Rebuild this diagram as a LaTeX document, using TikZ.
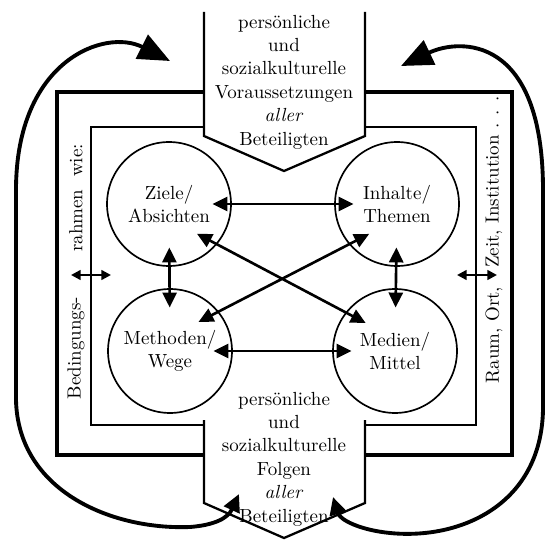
\documentclass[tikz,border=0pt]{standalone}
\usepackage{amsmath}
\usepackage{tikz}
\usetikzlibrary{arrows.meta}

\begin{document}
\begin{tikzpicture}[x=0.02cm,y=-0.02cm,
  every node/.style={font=\fontsize{10.8}{13.3}\selectfont,align=center},
  feld/.style={circle,draw,line width=0.95pt,minimum size=2.48cm,inner sep=0pt},
  rahmen/.style={line width=1.9pt},
  innen/.style={line width=1.1pt},
  fuenfeck/.style={line width=1.3pt},
  pfeil/.style={line width=1.5pt,{Triangle[length=8.5pt,width=8pt]}-{Triangle[length=8.5pt,width=8pt]}},
  seite/.style={line width=1.5pt,{Triangle[length=5.5pt,width=5.5pt]}-{Triangle[length=5.5pt,width=5.5pt]}},
  bogen/.style={line width=2.2pt,{Triangle[length=18pt,width=15pt]}-{Triangle[length=10pt,width=9.5pt]}}]
\useasboundingbox (0,0) rectangle (547,540);
\draw[rahmen] (204,92) -- (57,92) -- (57,455) -- (204,455);
\draw[rahmen] (365,92) -- (512,92) -- (512,455) -- (365,455);
\draw[innen] (204,127) -- (91,127) -- (91,425) -- (204,425);
\draw[innen] (365,127) -- (476,127) -- (476,425) -- (365,425);
\draw[fuenfeck] (204,12) -- (204,136) -- (284,171) -- (365,136) -- (365,12);
\draw[fuenfeck] (204,420) -- (204,503) -- (284,538) -- (365,503) -- (365,420);
\node (voraus) at (284,82) {pers\"onliche\\und\\sozialkulturelle\\Voraussetzungen\\\textit{aller}\\Beteiligten};
\node (folgen) at (284,459) {pers\"onliche\\und\\sozialkulturelle\\Folgen\\\textit{aller}\\Beteiligten};
\node[feld] (ziele) at (169,204) {Ziele/\\Absichten};
\node[feld] (inhalte) at (397,204) {Inhalte/\\Themen};
\node[feld] (methoden) at (170,351) {Methoden/\\Wege};
\node[feld] (medien) at (395,351) {Medien/\\Mittel};
\draw[pfeil,shorten <=-11pt,shorten >=-11pt] (ziele) -- (inhalte);
\draw[pfeil,shorten <=-11pt,shorten >=-11pt] (methoden) -- (medien);
\draw[pfeil,shorten <=-11pt,shorten >=-11pt] (ziele) -- (methoden);
\draw[pfeil,shorten <=-11pt,shorten >=-11pt] (inhalte) -- (medien);
\draw[pfeil,shorten <=-13pt,shorten >=-13pt] (ziele.-40) -- (medien.142);
\draw[pfeil,shorten <=-13pt,shorten >=-13pt] (inhalte.-140) -- (methoden.39);
\node[rotate=90] (bed) at (76,348) {Bedingungs-};
\node[rotate=90] (wie) at (76,198) {rahmen\ \ wie:};
\node[rotate=90] (raum) at (494,335) {Raum, Ort,};
\node[rotate=90] (zeit) at (494,182) {Zeit, Institution . . .};
\coordinate (la) at (71,275);
\coordinate (lb) at (111,275);
\coordinate (ra) at (457,275);
\coordinate (rb) at (497,275);
\draw[seite] (la) -- (lb);
\draw[seite] (ra) -- (rb);
\coordinate (lo) at (170,61);
\coordinate (lu) at (239,494);
\coordinate (ro) at (401,66);
\coordinate (ru) at (333,497);
\draw[bogen] (lo) .. controls (105,28) and (16,60) .. (16,190) -- (16,400)
  .. controls (18,490) and (110,530) .. (190,527) .. controls (215,525) and (228,518) .. (lu);
\draw[bogen] (ro) .. controls (460,38) and (543,35) .. (543,190) -- (543,410)
  .. controls (541,505) and (460,540) .. (390,533) .. controls (360,530) and (340,520) .. (ru);
\end{tikzpicture}
\end{document}
